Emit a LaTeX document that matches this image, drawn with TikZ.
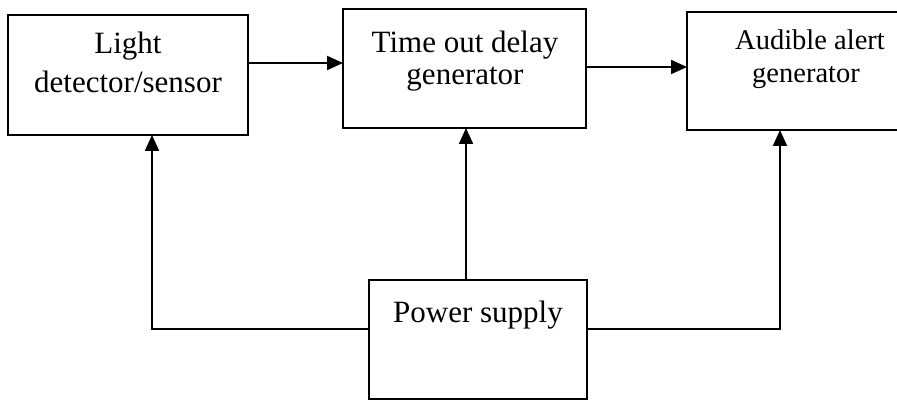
\documentclass[tikz,border=0pt]{standalone}
\usepackage{fontspec}
\setmainfont{Liberation Serif}
\usetikzlibrary{arrows.meta}
\begin{document}
\begin{tikzpicture}[x=1pt,y=-1pt,
  blockbox/.style={draw=black, line width=1.8pt, rectangle, inner sep=0pt, outer sep=0pt},
  lbl/.style={font=\fontsize{31}{37}\selectfont, inner sep=0pt, anchor=base},
  lblsmall/.style={font=\fontsize{28.5}{34}\selectfont, inner sep=0pt, anchor=base},
  conn/.style={draw=black, line width=2pt},
  arr/.style={conn, -{Triangle[length=16pt,width=14pt]}}]
\useasboundingbox (0,0) rectangle (897,401);
\fill[white] (0,0) rectangle (897,401);
\clip (0,0) rectangle (897,401);
% boxes
\node[blockbox, minimum width=240pt, minimum height=120pt] (b1) at (128,75) {};
\node[blockbox, minimum width=243pt, minimum height=119pt] (b2) at (464.5,68.5) {};
\node[blockbox, minimum width=243pt, minimum height=118pt] (b3) at (808.5,71) {};
\node[blockbox, minimum width=218pt, minimum height=119pt] (ps) at (478,339.5) {};
% texts
\node[lbl] (t1a) at (128,54) {Light};
\node[lbl] (t1b) at (128,93) {detector/sensor};
\node[lbl] (t2a) at (465,53) {Time out delay};
\node[lbl] (t2b) at (465,85) {generator};
\node[lblsmall] (t3a) at (810,50) {Audible alert};
\node[lblsmall] (t3b) at (806,83) {generator};
\node[lbl] (t4) at (478,322) {Power supply};
% connectors
\coordinate (c1) at (152,329);
\coordinate (c3) at (780,329);
\draw[arr] (b1.east |- 0,63) -- (b2.west |- 0,63);
\draw[arr] (b2.east |- 0,67) -- (b3.west |- 0,67);
\draw[arr] (ps.north -| 466,0) -- (b2.south -| 466,0);
\draw[arr] (ps.west |- c1) -- (c1) -- (b1.south -| c1);
\draw[arr] (ps.east |- c3) -- (c3) -- (b3.south -| c3);
\end{tikzpicture}
\end{document}
